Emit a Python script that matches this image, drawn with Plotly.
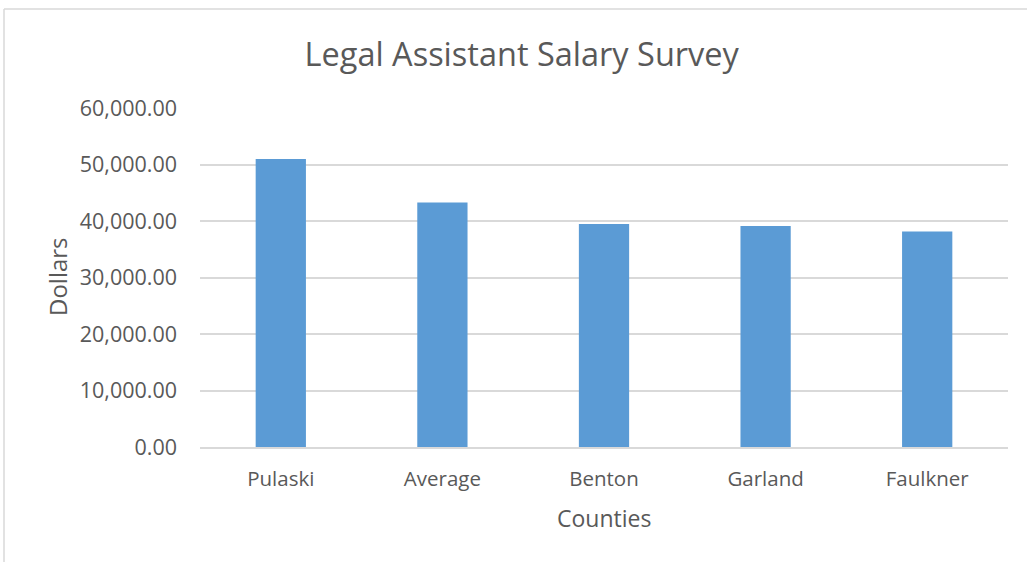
import plotly.graph_objects as go

counties = ["Pulaski", "Average", "Benton", "Garland", "Faulkner"]
salaries = [50990, 43260, 39470, 39110, 38140]
y_ticks = [0, 10000, 20000, 30000, 40000, 50000, 60000]

TXT = "#595959"
FONT = "Open Sans"

fig = go.Figure(go.Bar(x=counties, y=salaries, marker_color="#5b9bd5",
                       marker_line_width=0, width=0.311))

fig.update_layout(
    width=1027, height=562,
    margin=dict(l=200, r=19, t=108, b=115),
    paper_bgcolor="white", plot_bgcolor="white",
    showlegend=False,
    font=dict(family=FONT, color=TXT, size=20),
    title=dict(text="Legal Assistant Salary Survey", x=0.508, xanchor="center",
               y=1 - 55 / 562, yanchor="middle", yref="container",
               font=dict(family=FONT, size=32.5, color=TXT)),
)
fig.update_xaxes(showline=True, linecolor="#d9d9d9", linewidth=1.5,
                 ticks="", ticklabelstandoff=13,
                 tickfont=dict(family=FONT, size=20.5, color=TXT))
fig.update_yaxes(range=[0, 60000], tickvals=y_ticks, tickformat=",.2f",
                 showgrid=True, gridcolor="#d9d9d9", gridwidth=1.5,
                 zeroline=False, ticks="", ticklabelstandoff=22,
                 tickfont=dict(family=FONT, size=21.5, color=TXT))

fig.add_annotation(text="Dollars", xref="paper", yref="paper",
                   x=(57 - 200) / 808, y=(447 - 277) / 339, textangle=-90,
                   showarrow=False, xanchor="center", yanchor="middle",
                   font=dict(family=FONT, size=24, color=TXT))
fig.add_annotation(text="Counties", xref="paper", yref="paper",
                   x=(604 - 200) / 808, y=(447 - 518) / 339,
                   showarrow=False, xanchor="center", yanchor="middle",
                   font=dict(family=FONT, size=23, color=TXT))

# chart-area border (top and left edges visible)
fig.add_shape(type="line", xref="paper", yref="paper",
              x0=(4 - 200) / 808, x1=(1030 - 200) / 808,
              y0=(447 - 9) / 339, y1=(447 - 9) / 339,
              line=dict(color="#d9d9d9", width=1.5))
fig.add_shape(type="line", xref="paper", yref="paper",
              x0=(4 - 200) / 808, x1=(4 - 200) / 808,
              y0=(447 - 9) / 339, y1=(447 - 565) / 339,
              line=dict(color="#d9d9d9", width=1.5))

fig.write_html("out.html")
